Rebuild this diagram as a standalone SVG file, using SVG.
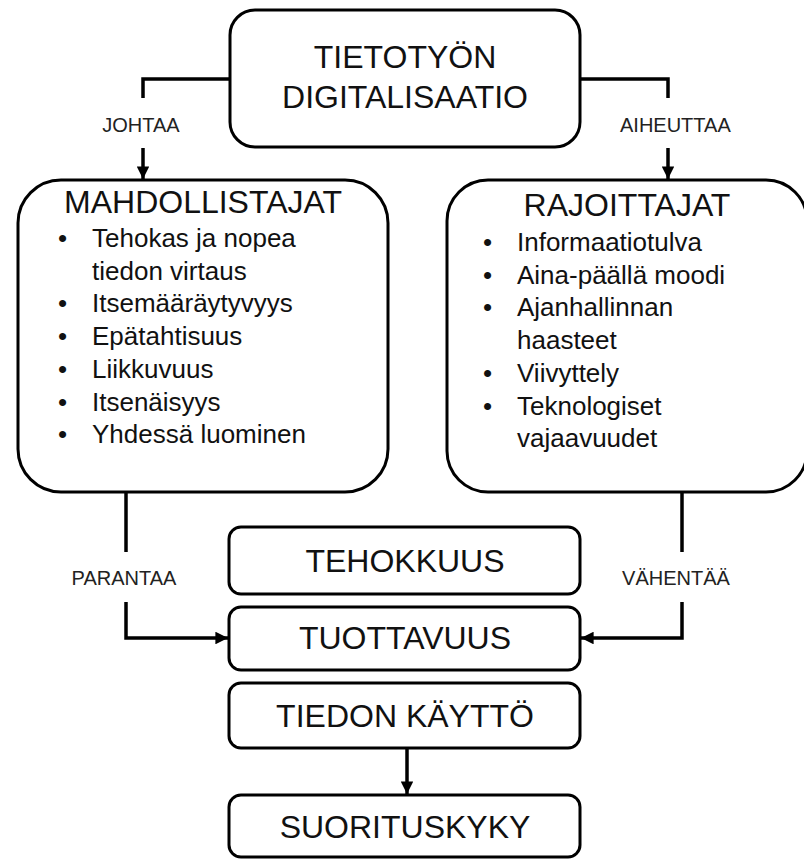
<svg xmlns="http://www.w3.org/2000/svg" width="804" height="861" viewBox="0 0 804 861">
  <style>
    .box { fill: #ffffff; stroke: #000000; stroke-width: 3; }
    .title { font-family: "Liberation Sans", Arial, sans-serif; font-size: 32px; fill: #111111; text-anchor: middle; }
    .item { font-family: "Liberation Sans", Arial, sans-serif; font-size: 26px; fill: #111111; }
    .label { font-family: "Liberation Sans", Arial, sans-serif; font-size: 20px; fill: #222222; }
    .wire { fill: none; stroke: #000000; stroke-width: 3.5; }
  </style>
  <defs>
    <marker id="arrow" viewBox="0 0 10 10" refX="10" refY="5" markerWidth="3.6" markerHeight="3.6" markerUnits="strokeWidth" orient="auto">
      <path d="M0,0 L10,5 L0,10 z" fill="#000000"/>
    </marker>
  </defs>
  <rect width="804" height="861" fill="#ffffff"/>

  <!-- connectors -->
  <g id="connectors">
    <path class="wire" d="M231,79 H143 V98"/>
    <path class="wire" d="M143,148 V179" marker-end="url(#arrow)"/>
    <path class="wire" d="M579,79 H668 V98"/>
    <path class="wire" d="M668,148 V179" marker-end="url(#arrow)"/>
    <path class="wire" d="M126,492 V552"/>
    <path class="wire" d="M126,602 V638 H228" marker-end="url(#arrow)"/>
    <path class="wire" d="M682,492 V552"/>
    <path class="wire" d="M682,602 V638 H581" marker-end="url(#arrow)"/>
    <path class="wire" d="M407,748 V794" marker-end="url(#arrow)"/>
    <text class="label" x="141" y="131.5" text-anchor="middle">JOHTAA</text>
    <text class="label" x="620" y="131.5">AIHEUTTAA</text>
    <text class="label" x="124" y="585" text-anchor="middle">PARANTAA</text>
    <text class="label" x="676" y="585" text-anchor="middle">VÄHENTÄÄ</text>
  </g>

  <g id="digitalisaatio">
    <rect class="box" x="230" y="10" width="350" height="137" rx="25" ry="25"/>
    <text class="title" x="405" y="68">TIETOTYÖN</text>
    <text class="title" x="405" y="108">DIGITALISAATIO</text>
  </g>

  <g id="mahdollistajat">
    <rect class="box" x="18" y="180" width="370" height="312" rx="43" ry="43"/>
    <text class="title" x="203" y="213">MAHDOLLISTAJAT</text>
    <g class="item">
      <text x="58" y="247">•</text><text x="92" y="247">Tehokas ja nopea</text>
      <text x="92" y="280">tiedon virtaus</text>
      <text x="58" y="312">•</text><text x="92" y="312">Itsemääräytyvyys</text>
      <text x="58" y="345">•</text><text x="92" y="345">Epätahtisuus</text>
      <text x="58" y="378">•</text><text x="92" y="378">Liikkuvuus</text>
      <text x="58" y="410.5">•</text><text x="92" y="410.5">Itsenäisyys</text>
      <text x="58" y="443">•</text><text x="92" y="443">Yhdessä luominen</text>
    </g>
  </g>

  <g id="rajoittajat">
    <rect class="box" x="447" y="180" width="360" height="312" rx="41" ry="41"/>
    <text class="title" x="627" y="216">RAJOITTAJAT</text>
    <g class="item">
      <text x="483" y="251">•</text><text x="517" y="251">Informaatiotulva</text>
      <text x="483" y="283.5">•</text><text x="517" y="283.5">Aina-päällä moodi</text>
      <text x="483" y="316">•</text><text x="517" y="316">Ajanhallinnan</text>
      <text x="517" y="349">haasteet</text>
      <text x="483" y="381.5">•</text><text x="517" y="381.5">Viivyttely</text>
      <text x="483" y="414.5">•</text><text x="517" y="414.5">Teknologiset</text>
      <text x="517" y="447">vajaavuudet</text>
    </g>
  </g>

  <g id="tehokkuus">
    <rect class="box" x="229" y="527" width="351" height="67" rx="12" ry="12"/>
    <text class="title" x="405" y="572">TEHOKKUUS</text>
  </g>

  <g id="tuottavuus">
    <rect class="box" x="229" y="607" width="351" height="63" rx="12" ry="12"/>
    <text class="title" x="405" y="649">TUOTTAVUUS</text>
  </g>

  <g id="tiedon-kaytto">
    <rect class="box" x="229" y="683" width="351" height="65" rx="12" ry="12"/>
    <text class="title" x="405" y="727">TIEDON KÄYTTÖ</text>
  </g>

  <g id="suorituskyky">
    <rect class="box" x="229" y="795" width="351" height="62" rx="12" ry="12"/>
    <text class="title" x="405" y="838">SUORITUSKYKY</text>
  </g>
</svg>
